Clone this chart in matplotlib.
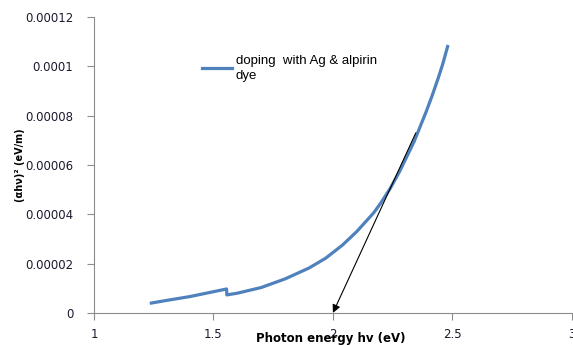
import matplotlib
matplotlib.use("Agg")
import matplotlib.pyplot as plt

# photon energy (eV) and (alpha h nu)^2
energy = [1.24, 1.3, 1.4, 1.5, 1.555, 1.556, 1.6, 1.7, 1.8, 1.9, 1.97, 2.04, 2.1,
          2.17, 2.2, 2.24, 2.28, 2.31, 2.34, 2.365, 2.39, 2.415, 2.44, 2.46, 2.48]
alpha_sq = [0.40e-5, 0.50e-5, 0.66e-5, 0.86e-5, 0.97e-5, 0.73e-5, 0.80e-5, 1.03e-5,
            1.38e-5, 1.82e-5, 2.22e-5, 2.75e-5, 3.3e-5, 4.05e-5, 4.45e-5, 5.05e-5,
            5.75e-5, 6.35e-5, 6.95e-5, 7.55e-5, 8.15e-5, 8.8e-5, 9.5e-5, 10.1e-5,
            10.8e-5]

# tangent arrow (start, end)
arrow_start = (2.347, 7.3e-5)
arrow_end = (2.0, 0.0)

xticks = [1, 1.5, 2, 2.5, 3]
xtick_labels = ["1", "1.5", "2", "2.5", "3"]
yticks = [0, 2e-5, 4e-5, 6e-5, 8e-5, 1e-4, 1.2e-4]
ytick_labels = ["0", "0.00002", "0.00004", "0.00006", "0.00008", "0.0001", "0.00012"]

fig = plt.figure(figsize=(5.73, 3.45), dpi=100)
ax = fig.add_axes([0.164, 0.093, 0.834, 0.858])

ax.plot(energy, alpha_sq, color="#4F81BD", lw=2.3, solid_joinstyle="round",
        label="doping  with Ag & alpirin\ndye")

ax.annotate("", xy=arrow_end, xytext=arrow_start,
            arrowprops=dict(arrowstyle="-|>", color="black", lw=0.8,
                            mutation_scale=12, shrinkA=0, shrinkB=0))

ax.set_xlim(1, 3)
ax.set_ylim(0, 1.2e-4)
ax.set_xticks(xticks)
ax.set_xticklabels(xtick_labels)
ax.set_yticks(yticks)
ax.set_yticklabels(ytick_labels)

for s in ["top", "right"]:
    ax.spines[s].set_visible(False)
for s in ["left", "bottom"]:
    ax.spines[s].set_color("#8c8c8c")
ax.tick_params(direction="out", length=5, color="#8c8c8c", labelsize=8.5,
               labelcolor="#1a1a2e")
ax.tick_params(axis="x", pad=6)
ax.tick_params(axis="y", pad=10)

leg = ax.legend(loc="upper left", bbox_to_anchor=(0.215, 0.89), frameon=False,
                prop={"family": "Liberation Sans", "size": 9.5},
                handlelength=2.3, handletextpad=0.25, borderaxespad=0)
for t in leg.get_texts():
    t.set_linespacing(1.35)

fig.text(0.578, 0.02, "Photon energy hv (eV)", ha="center", va="center",
         fontsize=8.5, fontweight="bold")
fig.text(0.035, 0.52, "(αhν)² (eV/m)", ha="center", va="center",
         rotation=90, fontsize=7, fontweight="bold")

fig.savefig("out.png", dpi=100)
